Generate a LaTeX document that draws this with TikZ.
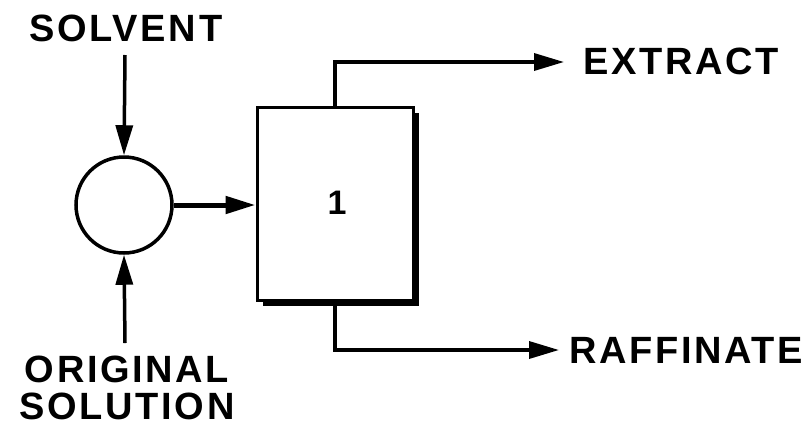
\documentclass[tikz,border=0pt]{standalone}
\usepackage{fontspec}
\newfontfamily\lab[LetterSpace=7]{Liberation Sans}
\newfontfamily\numfont{Liberation Sans}
\usetikzlibrary{arrows.meta}
\tikzset{
  lbl/.style={font=\lab\bfseries\fontsize{38}{37}\selectfont, inner sep=0pt, align=center},
  flow/.style={line width=3.5pt, -{Triangle[length=30pt,width=17pt]}},
}
\begin{document}
\begin{tikzpicture}[x=1pt,y=-1pt]
\useasboundingbox[fill=white] (0,0) rectangle (808,432);
% labels
\node[lbl] (solv) at (126,28) {SOLVENT};
\node[lbl] (orig) at (127,388) {ORIGINAL\\SOLUTION};
\node[lbl, anchor=west] (ext) at (583,61) {EXTRACT};
\node[lbl, anchor=west] (raf) at (569,350) {RAFFINATE};
% mixer
\node[circle, draw, line width=3.5pt, minimum size=96pt, inner sep=0pt] (mix) at (124,205) {};
% stage box with shadow
\fill (263,113) rectangle (419,306);
\node[draw, fill=white, line width=3pt, minimum width=156pt, minimum height=193pt, inner sep=0pt] (box) at (335,203.5) {};
\node[font=\numfont\bfseries\fontsize{34}{36}\selectfont] (one) at (337,203) {1};
% free ends
\coordinate (s0) at (125,55);
\coordinate (o0) at (125,343);
\coordinate (e1) at (564,62);
\coordinate (r1) at (559,350);
% connectors
\draw[flow] (s0) -- (mix.north);
\draw[flow] (o0) -- (mix.south);
\draw[flow, line width=5pt] (mix.east) -- (mix.east -| box.west);
\draw[flow] (box.north) |- (e1);
\draw[flow] (box.south) |- (r1);
\end{tikzpicture}
\end{document}
